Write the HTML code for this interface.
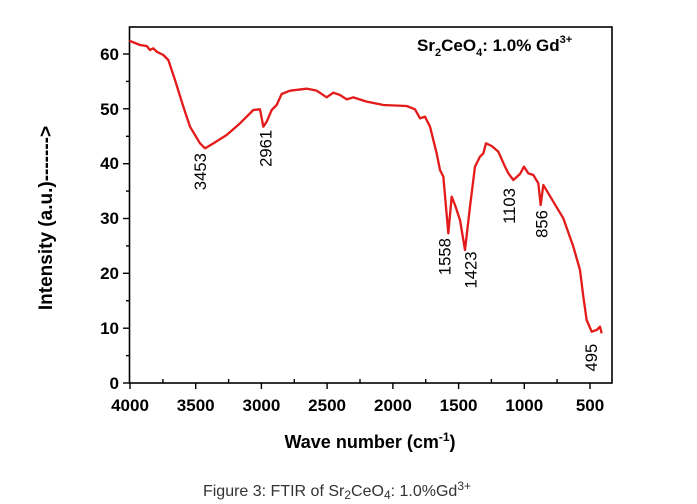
<!DOCTYPE html>
<html><head><style>body{margin:0;background:#fff}svg{display:block}</style></head><body>
<svg width="697" height="504" xmlns="http://www.w3.org/2000/svg" font-family="Liberation Sans, Arial, sans-serif">
<rect width="697" height="504" fill="#fff"/>
<rect x="129.5" y="27" width="482.5" height="356" fill="none" stroke="#000" stroke-width="1.6"/>
<g stroke="#000" stroke-width="1.4">
<line x1="130" y1="383" x2="130" y2="389"/><line x1="195.7" y1="383" x2="195.7" y2="389"/><line x1="261.4" y1="383" x2="261.4" y2="389"/><line x1="327.1" y1="383" x2="327.1" y2="389"/><line x1="392.9" y1="383" x2="392.9" y2="389"/><line x1="458.6" y1="383" x2="458.6" y2="389"/><line x1="524.3" y1="383" x2="524.3" y2="389"/><line x1="590" y1="383" x2="590" y2="389"/>
<line x1="162.9" y1="383" x2="162.9" y2="379"/><line x1="228.6" y1="383" x2="228.6" y2="379"/><line x1="294.3" y1="383" x2="294.3" y2="379"/><line x1="360" y1="383" x2="360" y2="379"/><line x1="425.7" y1="383" x2="425.7" y2="379"/><line x1="491.4" y1="383" x2="491.4" y2="379"/><line x1="557.1" y1="383" x2="557.1" y2="379"/>
<line x1="123" y1="383" x2="130" y2="383"/><line x1="123" y1="328.2" x2="130" y2="328.2"/><line x1="123" y1="273.3" x2="130" y2="273.3"/><line x1="123" y1="218.5" x2="130" y2="218.5"/><line x1="123" y1="163.7" x2="130" y2="163.7"/><line x1="123" y1="108.8" x2="130" y2="108.8"/><line x1="123" y1="54" x2="130" y2="54"/>
<line x1="126" y1="355.6" x2="130" y2="355.6"/><line x1="126" y1="300.8" x2="130" y2="300.8"/><line x1="126" y1="245.9" x2="130" y2="245.9"/><line x1="126" y1="191.1" x2="130" y2="191.1"/><line x1="126" y1="136.3" x2="130" y2="136.3"/><line x1="126" y1="81.4" x2="130" y2="81.4"/>
</g>
<g font-size="17" font-weight="bold" text-anchor="end">
<text x="119" y="389">0</text><text x="119" y="334">10</text><text x="119" y="279">20</text><text x="119" y="224">30</text><text x="119" y="169">40</text><text x="119" y="115">50</text><text x="119" y="60">60</text>
</g>
<g font-size="17" font-weight="bold" text-anchor="middle">
<text x="130" y="411">4000</text><text x="195.7" y="411">3500</text><text x="261.4" y="411">3000</text><text x="327.1" y="411">2500</text><text x="392.9" y="411">2000</text><text x="458.6" y="411">1500</text><text x="524.3" y="411">1000</text><text x="590" y="411">500</text>
</g>
<text x="370" y="448" font-size="18" font-weight="bold" text-anchor="middle">Wave number (cm<tspan dy="-7" font-size="12">-1</tspan><tspan dy="7">)</tspan></text>
<text transform="translate(52,218) rotate(-90)" font-size="19" font-weight="bold" text-anchor="middle">Intensity (a.u.)-------&gt;</text>
<text x="417" y="51" font-size="17" font-weight="bold">Sr<tspan dy="5" font-size="11">2</tspan><tspan dy="-5">CeO</tspan><tspan dy="5" font-size="11">4</tspan><tspan dy="-5">: 1.0% Gd</tspan><tspan dy="-8" font-size="11">3+</tspan></text>
<g transform="translate(100,20) scale(0.33333)">
<polyline fill="none" stroke="#e31b1b" stroke-width="7" stroke-linejoin="round" points="88,62 120,75 140,78 150,90 160,85 170,95 190,105 205,120 225,180 250,260 270,320 300,370 315,385 340,370 380,345 420,310 460,270 480,268 490,320 500,305 515,270 530,255 545,222 570,212 620,206 650,212 680,232 700,218 720,225 740,238 760,232 800,245 850,255 920,258 945,268 960,295 975,290 990,320 1010,400 1020,450 1030,470 1045,640 1055,530 1065,555 1080,600 1095,690 1110,560 1125,440 1140,410 1150,400 1158,370 1175,378 1195,395 1215,440 1225,460 1240,480 1260,462 1272,440 1285,460 1300,465 1315,490 1322,555 1330,495 1345,520 1360,545 1390,595 1420,680 1440,750 1450,830 1460,900 1475,935 1490,930 1500,920 1505,940"/>
<g font-size="50" text-anchor="middle">
<text transform="translate(318,455) rotate(-90)">3453</text>
<text transform="translate(515,385) rotate(-90)">2961</text>
<text transform="translate(1051,710) rotate(-90)">1558</text>
<text transform="translate(1129,750) rotate(-90)">1423</text>
<text transform="translate(1245,558) rotate(-90)">1103</text>
<text transform="translate(1343,612) rotate(-90)">856</text>
<text transform="translate(1491,1013) rotate(-90)">495</text>
</g>
</g>
<text x="337" y="496" font-size="16" fill="#333" text-anchor="middle">Figure 3: FTIR of Sr<tspan font-size="12" dy="3">2</tspan><tspan dy="-3">CeO</tspan><tspan font-size="12" dy="3">4</tspan><tspan dy="-3">: 1.0%Gd</tspan><tspan font-size="12" dy="-6">3+</tspan></text>
</svg>
</body></html>
